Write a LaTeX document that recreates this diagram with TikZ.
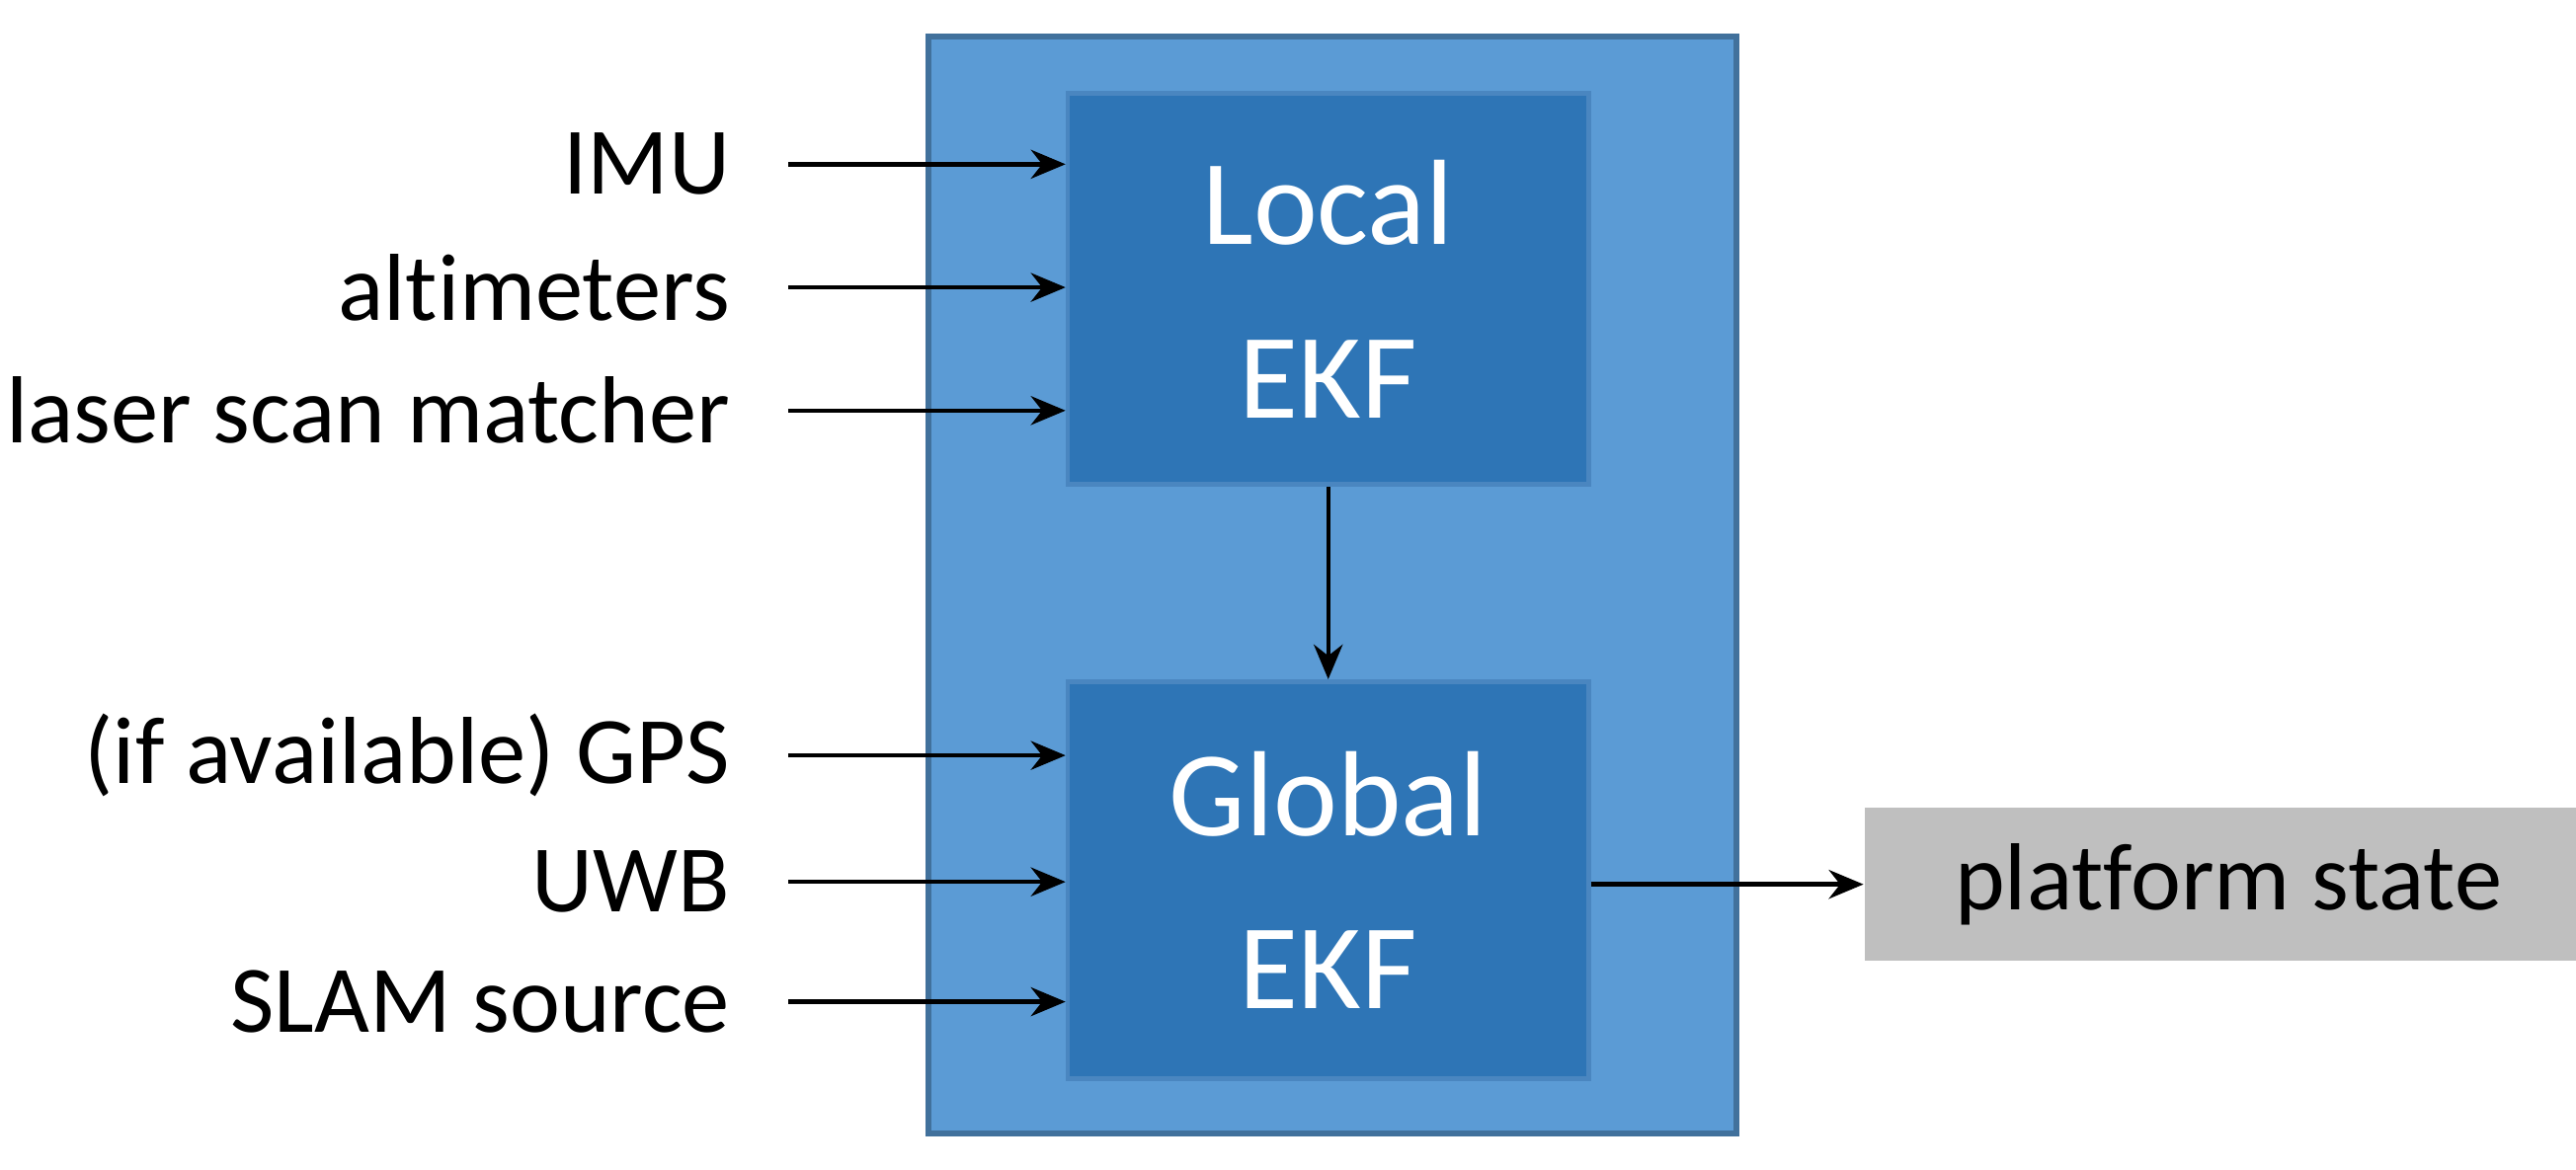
\documentclass[tikz,border=0pt]{standalone}
\usepackage{fontspec}
\setmainfont{Carlito}[Ligatures=NoCommon]
\usetikzlibrary{arrows.meta}
\definecolor{outerf}{HTML}{5B9BD5}
\definecolor{outerd}{HTML}{41719C}
\definecolor{innerf}{HTML}{2E75B6}
\definecolor{innerd}{HTML}{4A86C0}
\definecolor{grayf}{HTML}{BFBFBF}
\begin{document}
\begin{tikzpicture}[x=0.01cm,y=-0.01cm,
  lbl/.style={anchor=east,font=\fontsize{16.5}{18}\selectfont,inner sep=0pt},
  arr/.style={-{Stealth[length=6pt,width=5pt]},line width=0.75pt},
  ekf/.style={draw=innerd,fill=innerf,line width=0.8pt,text=white,font=\fontsize{21}{30}\selectfont,align=center}]
\useasboundingbox (0,0) rectangle (1568,712);
\path[draw=outerd,fill=outerf,line width=1pt] (565,22) rectangle (1057,690);
\node[ekf,minimum width=317*0.01cm,minimum height=238*0.01cm] (L) at (808.5,176) {Local\\EKF};
\node[ekf,minimum width=317*0.01cm,minimum height=242*0.01cm] (G) at (808.5,536) {Global\\EKF};
\node[fill=grayf,minimum width=443*0.01cm,minimum height=93*0.01cm,font=\fontsize{16.5}{18}\selectfont] (P) at (1356.5,538.5) {platform state};
\node[lbl] (a) at (445,100) {IMU};
\node[lbl] (b) at (445,175) {altimeters};
\node[lbl] (c) at (445,250) {laser scan matcher};
\node[lbl] (d) at (445,460) {(if available) GPS};
\node[lbl] (e) at (445,537) {UWB};
\node[lbl] (f) at (445,610) {SLAM source};
\foreach \n/\y in {a/100,b/175,c/250,d/460,e/537,f/610}
  \draw[arr] (480,\y) -- (L.west |- 0,\y);
\draw[arr] (L.south) -- (G.north);
\draw[arr] (G.east |- P.west) -- (P.west);
\end{tikzpicture}
\end{document}
